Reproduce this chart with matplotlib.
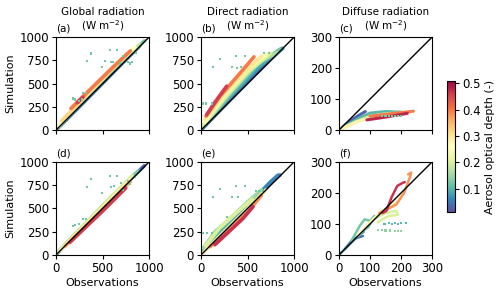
import matplotlib
matplotlib.use("Agg")
import matplotlib.pyplot as plt
import numpy as np
from matplotlib.colors import Normalize
from matplotlib.cm import ScalarMappable

# ---------------- data ----------------
# Each panel: list of tracks -> AOD value, observations, simulations
A_AOD = [0.03, 0.07, 0.12, 0.18, 0.25, 0.32, 0.40, 0.46]
A_OBS = [[0, 300, 600, 880], [0, 300, 600, 900], [0, 300, 600, 950], [10, 300, 600, 900],
         [30, 300, 600, 850], [60, 400, 750], [160, 400, 600, 800], [230, 290]]
A_SIM = [[0, 300, 605, 890], [5, 310, 615, 905], [10, 320, 630, 960], [20, 330, 650, 920],
         [40, 345, 670, 890], [100, 450, 810], [233, 470, 665, 853], [295, 355]]
A_PTS_OBS = [373, 330, 581, 652, 527, 591, 609, 491, 724, 688, 778, 796, 186, 204, 294, 323,
             250, 280, 860, 880, 900, 930, 760, 820]
A_PTS_SIM = [824, 742, 860, 860, 742, 735, 735, 681, 796, 717, 735, 717, 341, 330, 400, 400,
             310, 330, 830, 870, 900, 945, 760, 730]

B_AOD = [0.03, 0.06, 0.09, 0.12, 0.16, 0.20, 0.25, 0.30, 0.40, 0.46]
B_OBS = [[0, 300, 600, 850], [0, 300, 600, 880], [0, 300, 600, 870], [10, 300, 600, 850],
         [20, 300, 600, 814], [30, 250, 500, 750], [40, 250, 500, 700], [43, 250, 450, 652],
         [54, 200, 400, 570], [60, 150, 276]]
B_SIM = [[0, 310, 615, 860], [5, 330, 640, 880], [10, 350, 670, 880], [25, 370, 700, 870],
         [40, 390, 720, 832], [60, 340, 620, 830], [90, 370, 650, 815], [115, 390, 610, 796],
         [151, 360, 590, 789], [165, 300, 473]]
B_PTS_OBS = [133, 204, 376, 473, 330, 391, 427, 681, 735, 18, 54, 115]
B_PTS_SIM = [681, 767, 796, 796, 681, 670, 677, 832, 832, 287, 287, 287]

C_AOD = [0.03, 0.10, 0.18, 0.28, 0.40, 0.48]
C_OBS = [[0, 30, 60, 85], [0, 50, 100, 150, 200], [0, 50, 100, 150, 190],
         [10, 60, 120, 180, 230], [100, 160, 240], [90, 150, 220]]
C_SIM = [[0, 25, 45, 60], [0, 30, 55, 60, 58], [0, 25, 45, 53, 55],
         [5, 28, 45, 52, 58], [45, 52, 61], [33, 42, 54]]
C_PTS_OBS = [140, 150, 160, 170, 180, 190, 200]
C_PTS_SIM = [46, 46, 45, 46, 45, 46, 45]

D_AOD = [0.03, 0.08, 0.13, 0.20, 0.28, 0.36, 0.46]
D_OBS = [[0, 300, 600, 950], [0, 300, 600, 900], [0, 300, 600, 880], [20, 300, 600, 820],
         [50, 300, 600, 800], [100, 300, 600, 800], [150, 300, 500, 750]]
D_SIM = [[0, 310, 620, 960], [5, 315, 625, 910], [10, 320, 630, 900], [25, 320, 630, 850],
         [50, 300, 600, 810], [95, 290, 585, 790], [135, 280, 470, 720]]
D_PTS_OBS = [373, 330, 581, 652, 491, 595, 774, 204, 290, 323, 186, 250, 620, 700, 720, 800, 850]
D_PTS_SIM = [814, 728, 849, 849, 663, 728, 796, 323, 383, 383, 310, 330, 740, 770, 700, 760, 840]

E_AOD = [0.03, 0.06, 0.10, 0.15, 0.20, 0.28, 0.38, 0.47]
E_OBS = [[600, 700, 800, 850], [0, 200, 500, 750, 830], [0, 200, 400, 600],
         [30, 150, 300, 500, 650], [50, 200, 400, 550], [0, 200, 400, 600, 700],
         [100, 300, 500, 650], [150, 300, 450, 560]]
E_SIM = [[640, 730, 820, 860], [5, 220, 530, 790, 860], [15, 250, 460, 640],
         [80, 250, 380, 570, 700], [100, 290, 470, 600], [0, 200, 400, 600, 700],
         [90, 270, 460, 640], [110, 250, 390, 520]]
E_PTS_OBS = [133, 204, 376, 473, 330, 401, 595, 630, 667, 276, 25, 61, 115]
E_PTS_SIM = [627, 706, 742, 742, 627, 620, 692, 692, 692, 412, 233, 233, 233]

F_AOD = [0.04, 0.08, 0.12, 0.20, 0.28, 0.38, 0.47]
F_OBS = [[20, 45, 77], [0, 30, 60, 80], [40, 67, 83, 100, 115, 95, 80],
         [120, 150, 185, 190, 160, 140, 125], [60, 104, 137, 158, 190, 206, 215],
         [130, 160, 185, 210, 228, 233, 223], [140, 153, 169, 188, 206, 212]]
F_SIM = [[20, 51, 61], [0, 30, 60, 75], [45, 94, 115, 110, 126, 90, 80],
         [120, 135, 142, 130, 125, 115, 105], [60, 110, 142, 150, 174, 201, 215],
         [135, 150, 163, 200, 249, 266, 260], [135, 142, 185, 223, 233, 235]]
F_PTS_OBS = [147, 160, 170, 180, 190, 200, 217, 126, 140, 150, 165, 180, 190, 201]
F_PTS_SIM = [101, 102, 101, 103, 100, 102, 104, 80, 80, 79, 79, 78, 78, 77]
F_PTS_AOD = [0.10] * 7 + [0.14] * 7

TITLES = ["Global radiation", "Direct radiation", "Diffuse radiation"]
LETTERS = ["(a)", "(b)", "(c)", "(d)", "(e)", "(f)"]
TICKS_WIDE = [0, 250, 500, 750, 1000]
TICKS_WIDE_X = [0, 500, 1000]
TICKS_DIFF = [0, 100, 200, 300]
CBAR_TICKS = [0.1, 0.2, 0.3, 0.4, 0.5]

# ---------------- figure ----------------
cmap = plt.get_cmap("Spectral_r")
norm = Normalize(vmin=0.01, vmax=0.51)

fig = plt.figure(figsize=(5.0, 2.93), dpi=100)
lefts = [0.112, 0.402, 0.678]
bottoms = [0.556, 0.130]
w, h = 0.186, 0.317

panels = [
    (A_AOD, A_OBS, A_SIM, A_PTS_OBS, A_PTS_SIM, None, 1000, 2.6),
    (B_AOD, B_OBS, B_SIM, B_PTS_OBS, B_PTS_SIM, None, 1000, 2.6),
    (C_AOD, C_OBS, C_SIM, C_PTS_OBS, C_PTS_SIM, None, 300, 2.2),
    (D_AOD, D_OBS, D_SIM, D_PTS_OBS, D_PTS_SIM, None, 1000, 2.6),
    (E_AOD, E_OBS, E_SIM, E_PTS_OBS, E_PTS_SIM, None, 1000, 2.6),
    (F_AOD, F_OBS, F_SIM, F_PTS_OBS, F_PTS_SIM, F_PTS_AOD, 300, 1.8),
]

for i, (aod, obs, sim, pobs, psim, paod, lim, lw) in enumerate(panels):
    r, c = divmod(i, 3)
    ax = fig.add_axes([lefts[c], bottoms[r], w, h])
    order = np.argsort(aod)
    for k in order:
        ax.plot(obs[k], sim[k], color=cmap(norm(aod[k])), lw=lw,
                solid_capstyle="round", solid_joinstyle="round", zorder=2)
    pc = paod if paod is not None else [0.12] * len(pobs)
    ax.scatter(pobs, psim, c=[cmap(norm(v)) for v in pc], s=2.5,
               marker="s", linewidths=0, zorder=3)
    ax.plot([0, lim], [0, lim], color="black", lw=1.0, zorder=4)
    ax.set_xlim(0, lim)
    ax.set_ylim(0, lim)
    if lim == 1000:
        ax.set_xticks(TICKS_WIDE_X)
        ax.set_yticks(TICKS_WIDE)
    else:
        ax.set_xticks(TICKS_DIFF)
        ax.set_yticks(TICKS_DIFF)
    ax.tick_params(labelsize=8.5, length=3, width=0.8, pad=2)
    for s in ax.spines.values():
        s.set_linewidth(0.8)
    if r == 0:
        ax.tick_params(labelbottom=False)
        ax.text(0.5, 1.22, TITLES[c], transform=ax.transAxes, ha="center",
                va="bottom", fontsize=7.5)
        ax.text(0.5, 1.04, "(W m$^{-2}$)", transform=ax.transAxes, ha="center",
                va="bottom", fontsize=7.5)
    else:
        ax.set_xlabel("Observations", fontsize=8, labelpad=2)
    if c == 0:
        ax.set_ylabel("Simulation", fontsize=8, labelpad=3)
    ax.text(0.0, 1.04, LETTERS[i], transform=ax.transAxes, ha="left",
            va="bottom", fontsize=7.5)

cax = fig.add_axes([0.894, 0.276, 0.016, 0.448])
sm = ScalarMappable(norm=norm, cmap=cmap)
cb = fig.colorbar(sm, cax=cax, ticks=CBAR_TICKS)
cb.ax.tick_params(labelsize=8.5, length=3, width=0.8, pad=2)
cb.outline.set_linewidth(0.8)
cb.set_label("Aerosol optical depth (-)", fontsize=8, labelpad=3)

fig.savefig("out.png", dpi=100)
